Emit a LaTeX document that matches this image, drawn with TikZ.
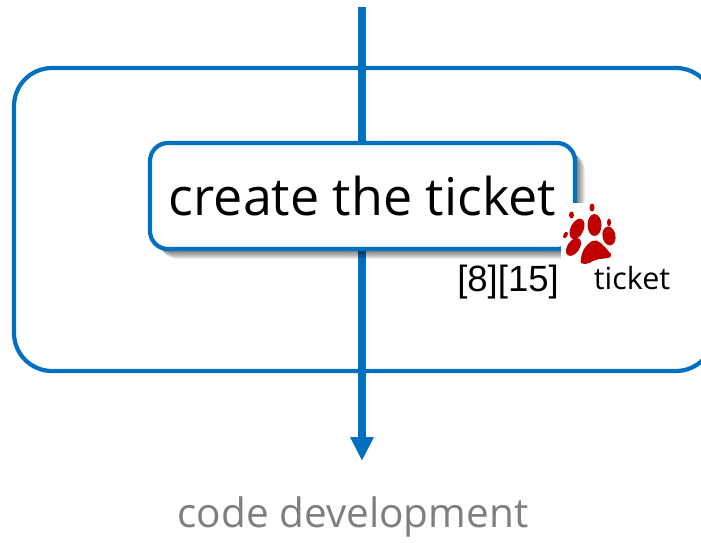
\documentclass[tikz,border=0pt]{standalone}
\usepackage{fontspec}
\setmainfont{Open Sans}
\newfontfamily\refsfont{Liberation Sans}
\usetikzlibrary{arrows.meta}
\definecolor{flowblue}{RGB}{0,112,192}
\definecolor{pawred}{RGB}{192,0,0}
\definecolor{softgray}{RGB}{127,127,127}
\tikzset{
  x=1pt,y=-1pt,
  outerbox/.style={draw=flowblue,line width=4.2pt,rounded corners=38pt,minimum width=700pt,minimum height=303pt,inner sep=0pt},
  ticketbox/.style={draw=flowblue,line width=4.2pt,fill=white,rounded corners=18pt,minimum width=425pt,minimum height=106pt,inner sep=0pt,text=black,font=\fontsize{52}{52}\selectfont},
  shadowlayer/.style={fill=black,fill opacity=0.07,rounded corners=18pt},
  flow/.style={draw=flowblue,line width=8pt,-{Triangle[width=22pt,length=24pt]}},
  pawpart/.style={fill=pawred,draw=none},
  smalllabel/.style={inner sep=0pt,text=black,font=\fontsize{30.5}{30.5}\selectfont},
  refslabel/.style={inner sep=0pt,text=black,font=\refsfont\fontsize{36.5}{36.5}\selectfont},
  targetlabel/.style={inner sep=0pt,text=softgray,font=\fontsize{40.5}{40.5}\selectfont},
}
\begin{document}
\begin{tikzpicture}
\clip (0,0) rectangle (701,543);
\fill[white] (0,0) rectangle (701,543);
\coordinate (start) at (362,7);
\coordinate (end) at (362,461);
\node[outerbox] (outer) at (364,219.5) {};
\draw[flow] (start) -- (end);
% soft shadow of the ticket box
\foreach \d in {1,2,...,10}{
  \fill[shadowlayer] (150+\d,143+\d) rectangle (575+\d,249+\d);
}
\node[ticketbox] (ticketstep) at (362.5,196) {create the ticket};
% paw icon on its white patch
\fill[white] (561,203) rectangle (618,266);
\begin{scope}[pawpart]
  \fill[pawred] (581,263) .. controls (580,255) and (584,246) .. (592,241)
     .. controls (598,238) and (604,246) .. (611,254)
     .. controls (612,259) and (606,258) .. (599,259)
     .. controls (592,260) and (586,267) .. (581,263) -- cycle;
  \fill[pawred] (594.5,225) ellipse [x radius=7,y radius=11];
  \fill[pawred,rotate around={-25:(577,229)}] (577,229) ellipse [x radius=6.5,y radius=11];
  \fill[pawred,rotate around={10:(609,236)}] (609,236) ellipse [x radius=6.5,y radius=9.5];
  \fill[pawred,rotate around={-35:(573.5,247)}] (573.5,247) ellipse [x radius=6,y radius=10];
  \fill[pawred] (592,207.5) ellipse [x radius=2.5,y radius=4];
  \fill[pawred] (571.5,215) ellipse [x radius=2.5,y radius=3.5];
  \fill[pawred] (609,222.5) ellipse [x radius=2,y radius=4];
  \fill[pawred,rotate around={-30:(565.5,235)}] (565.5,235) ellipse [x radius=2,y radius=3.5];
\end{scope}
\node[smalllabel] (ticketlabel) at (632,278) {ticket};
\node[refslabel] (refs) at (508,282) {[8][15]};
\node[targetlabel] (target) at (353,517) {code development};
\end{tikzpicture}
\end{document}
